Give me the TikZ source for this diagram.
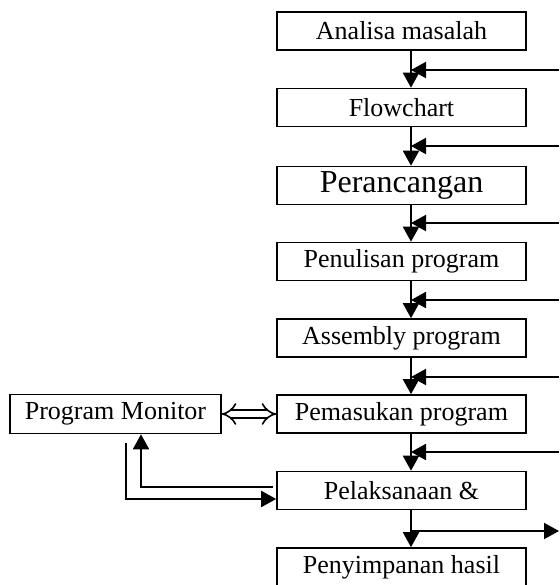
\documentclass[tikz,border=0pt]{standalone}
\usepackage{fontspec}
\setmainfont{Liberation Serif}
\usetikzlibrary{arrows.meta}
\begin{document}
\begin{tikzpicture}[x=0.5pt, y=-0.5pt, line join=miter, >={Triangle[length=7.5pt,width=8pt]},
	kotak/.style={draw, line width=0.8pt, rectangle, minimum width=124.5pt, minimum height=19pt, inner sep=0pt, font=\fontsize{13}{15}\selectfont},
	panah/.style={->, line width=1pt}]
				\useasboundingbox (0,0) rectangle (559,585);
				% kotak utama
				\node[kotak] (analisa) at (401.5,31) {Analisa masalah};
				\node[kotak] (flow) at (401.5,107.5) {Flowchart};
				\node[kotak, font=\fontsize{16}{18}\selectfont] (rancang) at (401.5,185.5) {Perancangan};
				\node[kotak] (tulis) at (401.5,261.5) {Penulisan program};
				\node[kotak] (asm) at (401.5,338) {Assembly program};
				\node[kotak] (masuk) at (401.5,414) {Pemasukan program};
				\node[kotak] (laksana) at (401.5,490.5) {Pelaksanaan \&};
				\node[kotak] (simpan) at (401.5,567) {Penyimpanan hasil};
				\node[kotak, minimum width=105.5pt, minimum height=19.5pt] (monitor) at (115.5,414) {Program Monitor};
				\coordinate (xl) at (411,0);
				% aliran turun
				\foreach \a/\b in {analisa/flow, flow/rancang, rancang/tulis, tulis/asm, asm/masuk, masuk/laksana, laksana/simpan}
					\draw[panah] (\a.south -| xl) -- (\b.north -| xl);
				% umpan balik dari kanan
				\foreach \y [count=\i] in {70,146,223,300,377,452}{
					\coordinate (fb\i) at (559,\y);
					\draw[panah] (fb\i) -- (fb\i -| xl);
				}
				\coordinate (keluar) at (559,531);
				\draw[panah] (xl |- keluar) -- (keluar);
				% monitor
				\draw[double, line width=0.8pt, double distance=3pt, {Implies}-{Implies}] (monitor.east) -- (masuk.west);
				\coordinate (balik) at (273,487);
				\coordinate (mulai) at (126,443);
				\draw[panah] (balik) -| ([xshift=12.75pt]monitor.south);
				\draw[panah] (mulai) |- ([yshift=-4.25pt]laksana.west);
			\end{tikzpicture}
\end{document}
